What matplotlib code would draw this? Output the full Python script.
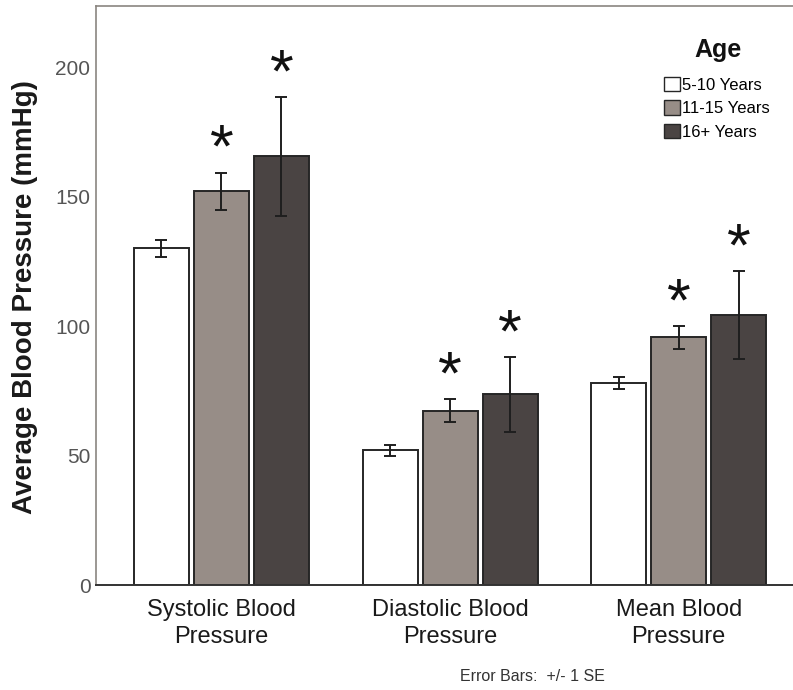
import matplotlib.pyplot as plt
import numpy as np

plt.rcParams['font.family'] = ['Liberation Sans', 'DejaVu Sans']

# 数据
groups = ["Systolic Blood\nPressure", "Diastolic Blood\nPressure", "Mean Blood\nPressure"]
ages = ["5-10 Years", "11-15 Years", "16+ Years"]
means = [
    [130.0, 52.0, 78.0],   # 5-10
    [152.0, 67.3, 95.6],   # 11-15
    [165.5, 73.7, 104.2],  # 16+
]
errs = [
    [3.3, 2.0, 2.2],
    [7.3, 4.4, 4.6],
    [23.0, 14.5, 17.0],
]
signif = [
    [False, False, False],
    [True, True, True],
    [True, True, True],
]
colors = ["#ffffff", "#978d87", "#4a4443"]

fig = plt.figure(figsize=(7.93, 6.90), dpi=100)
ax = fig.add_axes([0.121, 0.152, 0.879, 0.839])

x = np.arange(len(groups))
step = 0.2626
width = 0.2407
for i, age in enumerate(ages):
    pos = x + (i - 1) * step
    ax.bar(pos, means[i], width, color=colors[i], edgecolor="#262626",
           linewidth=1.4, label=age, zorder=2)
    ax.errorbar(pos, means[i], yerr=errs[i], fmt="none", ecolor="#1e1e1e",
                elinewidth=1.4, capsize=4.5, capthick=1.4, zorder=3)
    for j in range(len(groups)):
        if signif[i][j]:
            top = means[i][j] + errs[i][j]
            ax.annotate("*", (pos[j], top), xytext=(0, 4), textcoords="offset points",
                        ha="center", va="baseline", fontsize=44, color="#111111")

ax.set_xlim(-0.549, 2.50)
ax.set_ylim(0, 223.5)
ax.set_yticks([0, 50, 100, 150, 200])
ax.set_xticks(x)
ax.set_xticklabels(groups, fontsize=17, color="#1a1a1a", linespacing=1.3)
ax.tick_params(axis="y", length=0, labelsize=15, labelcolor="#555555", pad=4)
ax.tick_params(axis="x", length=0, pad=10)

# y 轴标题单独放置
fig.text(25 / 793, 1 - 297 / 690, "Average Blood Pressure (mmHg)", rotation=90,
         ha="center", va="center", fontsize=20, fontweight="bold", color="#1a1a1a")

for s in ["left", "top"]:
    ax.spines[s].set_color("#8a8580")
    ax.spines[s].set_linewidth(1.2)
ax.spines["bottom"].set_color("#333333")
ax.spines["bottom"].set_linewidth(1.4)
ax.spines["right"].set_visible(False)

leg = ax.legend(loc="upper left", bbox_to_anchor=(664 / 793, 1 - 77 / 690),
                bbox_transform=fig.transFigure, frameon=False, fontsize=12,
                handlelength=0.95, handleheight=0.95, handletextpad=0.1,
                labelspacing=0.45, borderpad=0, borderaxespad=0)
for h in leg.legend_handles:
    h.set_linewidth(1.0)
fig.text(718 / 793, 1 - 50 / 690, "Age", ha="center", va="center",
         fontsize=18, fontweight="bold", color="#111111")

fig.text(0.671, 0.019, "Error Bars:  +/- 1 SE", ha="center", va="center",
         fontsize=11.5, color="#333333")

fig.savefig("out.png", dpi=100)
